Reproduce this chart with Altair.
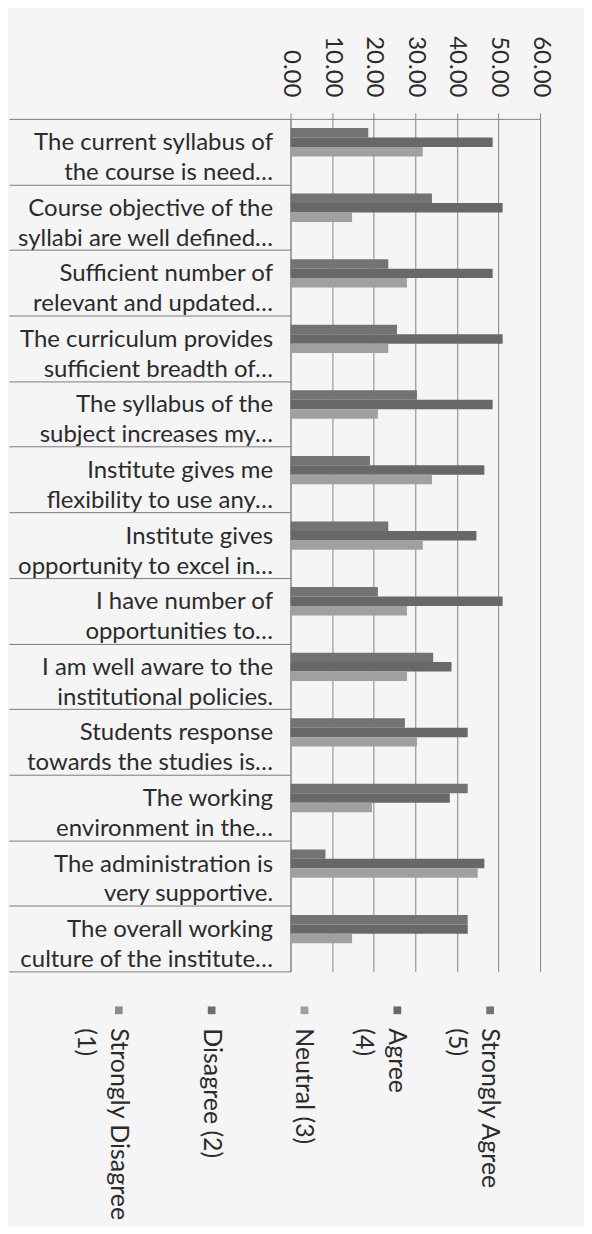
import altair as alt
import pandas as pd

categories = [
    "The current syllabus of\nthe course is need…",
    "Course objective of the\nsyllabi are well defined…",
    "Sufficient number of\nrelevant and updated…",
    "The curriculum provides\nsufficient breadth of…",
    "The syllabus of the\nsubject increases my…",
    "Institute gives me\nflexibility to use any…",
    "Institute gives\nopportunity to excel in…",
    "I have number of\nopportunities to…",
    "I am well aware to the\ninstitutional policies.",
    "Students response\ntowards the studies is…",
    "The working\nenvironment in the…",
    "The administration is\nvery supportive.",
    "The overall working\nculture of the institute…",
]

series_names = ["Strongly Agree (5)", "Agree (4)", "Neutral (3)", "Disagree (2)", "Strongly Disagree (1)"]
strongly_agree = [18.7, 34.0, 23.5, 25.6, 30.4, 19.1, 23.5, 21.0, 34.3, 27.5, 42.6, 8.4, 42.6]
agree = [48.6, 51.0, 48.6, 51.0, 48.6, 46.6, 44.7, 51.0, 38.7, 42.6, 38.3, 46.6, 42.6]
neutral = [31.8, 14.8, 28.0, 23.5, 21.0, 34.0, 31.8, 28.0, 28.0, 30.4, 19.6, 45.0, 14.8]
disagree = [0.0] * 13
strongly_disagree = [0.0] * 13
series_values = [strongly_agree, agree, neutral, disagree, strongly_disagree]
series_colors = ["#737373", "#686868", "#a0a0a0", "#6e6e6e", "#8c8c8c"]

x_ticks = [0, 10, 20, 30, 40, 50, 60]

legend_order = ["Strongly Disagree (1)", "Disagree (2)", "Neutral (3)", "Agree (4)", "Strongly Agree (5)"]
legend_lines = [["Strongly Disagree", "(1)"], ["Disagree (2)"], ["Neutral (3)"], ["Agree", "(4)"], ["Strongly Agree", "(5)"]]

rows = []
for name, vals in zip(series_names, series_values):
    for cat, v in zip(categories, vals):
        rows.append({"category": cat, "series": name, "value": v})
df = pd.DataFrame(rows)

FONT = "Lato"
TXT = "#2b2b2b"
GRID = "#858585"

color_scale = alt.Scale(domain=series_names, range=series_colors)

bars = alt.Chart(df).mark_bar().encode(
    x=alt.X(
        "value:Q",
        scale=alt.Scale(domain=[0, 60]),
        axis=alt.Axis(
            orient="top", values=x_ticks, format=".2f", title=None,
            labelAngle=90, labelAlign="right", labelBaseline="middle",
            labelFont=FONT, labelFontSize=24, labelColor=TXT,
            tickSize=6, labelPadding=16, labelFlush=False,
            gridColor=GRID, domainColor=GRID, tickColor=GRID,
        ),
    ),
    y=alt.Y(
        "category:N", sort=categories, title=None,
        scale=alt.Scale(paddingInner=0, paddingOuter=0),
        axis=alt.Axis(
            labelExpr="split(datum.label, '\\n')",
            labelLineHeight=30, labelOffset=-9,
            labelFont=FONT, labelFontSize=24, labelColor=TXT,
            labelAlign="right", labelBaseline="middle", labelLimit=400,
            tickBand="extent", tickSize=282, tickColor="#7a7a7a",
            labelPadding=-264, domainColor=GRID, grid=False,
        ),
    ),
    yOffset=alt.YOffset(
        "series:N", sort=series_names,
        scale=alt.Scale(paddingInner=0, paddingOuter=0.97),
    ),
    color=alt.Color("series:N", scale=color_scale, legend=None),
).properties(width=250, height=854)

leg_df = pd.DataFrame({"series": legend_order, "lines": legend_lines})
leg_x = alt.X(
    "series:N", sort=legend_order,
    scale=alt.Scale(type="point", range=[-172, 200], padding=0),
    axis=None,
)
leg_sq = alt.Chart(leg_df).mark_square(size=60, opacity=1).encode(
    x=leg_x,
    color=alt.Color("series:N", scale=color_scale, legend=None),
)
leg_txt = alt.Chart(leg_df).mark_text(
    angle=90, align="left", baseline="middle", dx=18, lineHeight=33,
    font=FONT, fontSize=25, color=TXT,
).encode(x=leg_x, text=alt.Text("lines:N"))
legend = alt.layer(leg_sq, leg_txt).properties(width=250, height=20)

chart = alt.vconcat(bars, legend, spacing=28).properties(
    padding={"top": 26, "left": 0, "right": 32, "bottom": 5},
    background="#f5f5f5",
).configure_view(stroke=None)

chart.save("out.html", embed_options={"renderer": "svg", "actions": False})
